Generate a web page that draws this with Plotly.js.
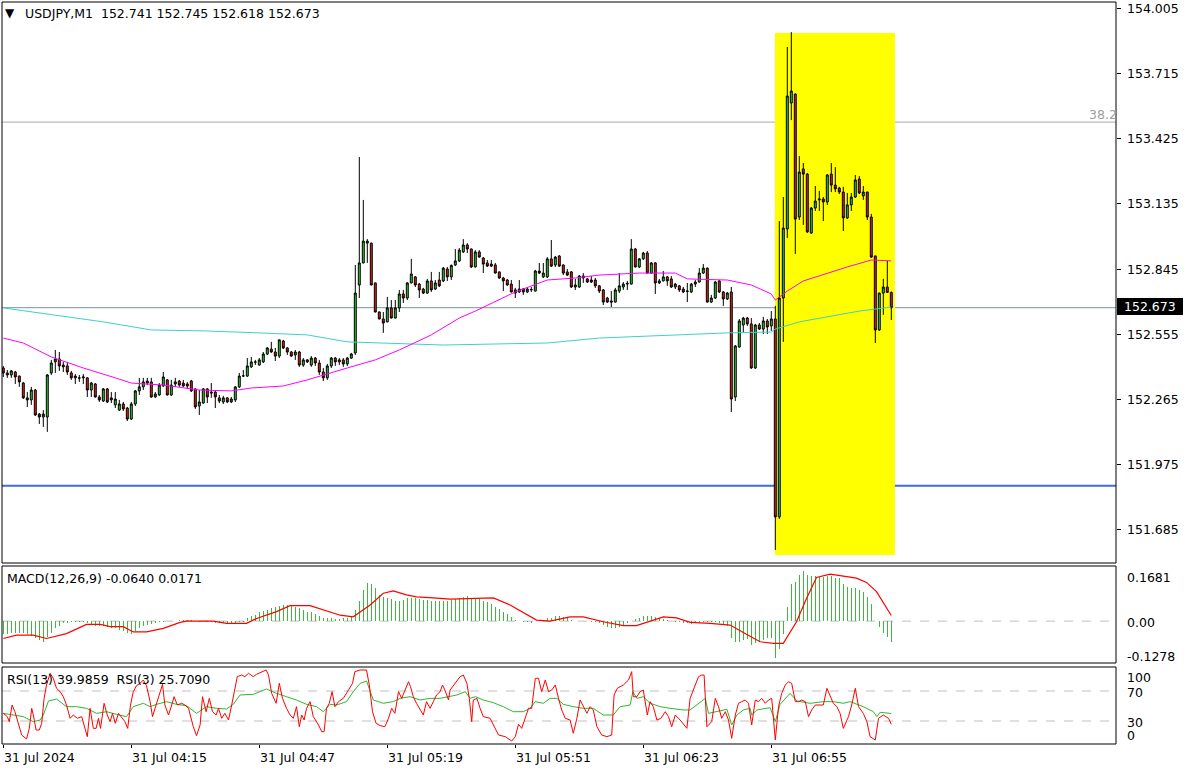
<!DOCTYPE html>
<html><head><meta charset="utf-8">
<script src="https://cdn.plot.ly/plotly-3.0.1.min.js"></script>
<style>html,body{margin:0;padding:0;background:#fff;overflow:hidden}#chart{width:1193px;height:771px}</style>
</head><body><div id="chart"></div>
<script>
// ---------- DATA ----------
const openP = [
152.405,152.383,152.374,152.387,152.369,152.338,152.272,152.263,152.307,152.200,
152.187,152.187,152.383,152.432,152.445,152.418,152.414,152.383,152.369,152.361,
152.361,152.361,152.307,152.334,152.276,152.258,152.312,152.272,152.241,152.218,
152.245,152.227,152.178,152.245,152.303,152.321,152.338,152.343,152.276,152.285,
152.325,152.352,152.285,152.334,152.347,152.338,152.334,152.347,152.312,152.236,
152.249,152.312,152.298,152.298,152.272,152.254,152.272,152.254,152.263,152.321,
152.369,152.369,152.410,152.432,152.418,152.432,152.467,152.489,152.476,152.458,
152.525,152.494,152.476,152.463,152.476,152.418,152.441,152.418,152.449,152.427,
152.387,152.361,152.414,152.449,152.432,152.441,152.423,152.449,152.472,152.774,
152.872,152.960,152.960,152.783,152.654,152.623,152.610,152.672,152.627,152.672,
152.734,152.716,152.783,152.810,152.778,152.756,152.738,152.792,152.756,152.796,
152.792,152.845,152.810,152.863,152.881,152.921,152.952,152.934,152.854,152.921,
152.894,152.872,152.867,152.863,152.832,152.805,152.796,152.778,152.752,152.743,
152.756,152.743,152.752,152.747,152.836,152.810,152.810,152.890,152.863,152.903,
152.863,152.832,152.832,152.765,152.765,152.814,152.801,152.796,152.796,152.770,
152.752,152.716,152.703,152.698,152.747,152.765,152.778,152.778,152.934,152.854,
152.890,152.916,152.827,152.872,152.783,152.792,152.810,152.801,152.765,152.770,
152.756,152.745,152.743,152.778,152.787,152.827,152.849,152.698,152.716,152.792,
152.743,152.712,152.743,152.276,152.498,152.596,152.627,152.601,152.405,152.596,
152.578,152.614,152.592,152.623,151.743,152.716,153.023,153.583,153.623,153.076,
153.290,153.267,153.005,153.116,153.152,153.156,153.143,153.267,153.218,153.205,
153.187,153.072,153.130,153.165,153.245,153.170,153.187,153.076,152.903,152.574,
152.738,152.765,152.741];
const highP = [
152.414,152.396,152.396,152.392,152.371,152.343,152.298,152.321,152.312,152.205,
152.218,152.378,152.441,152.485,152.476,152.432,152.432,152.392,152.378,152.374,
152.378,152.363,152.343,152.338,152.285,152.316,152.316,152.298,152.298,152.263,
152.254,152.232,152.254,152.307,152.361,152.361,152.361,152.361,152.298,152.338,
152.387,152.356,152.352,152.361,152.352,152.352,152.343,152.352,152.314,152.307,
152.316,152.316,152.338,152.307,152.285,152.281,152.276,152.276,152.323,152.383,
152.396,152.449,152.454,152.441,152.449,152.476,152.498,152.521,152.494,152.531,
152.530,152.498,152.481,152.485,152.481,152.449,152.445,152.458,152.454,152.441,
152.405,152.423,152.454,152.454,152.449,152.449,152.454,152.472,152.863,153.343,
153.152,152.978,152.962,152.785,152.656,152.654,152.721,152.707,152.707,152.752,
152.752,152.787,152.890,152.814,152.783,152.761,152.801,152.832,152.796,152.832,
152.854,152.854,152.865,152.934,152.938,152.978,152.960,152.936,152.929,152.929,
152.898,152.885,152.885,152.872,152.834,152.810,152.801,152.796,152.761,152.796,
152.761,152.765,152.765,152.841,152.872,152.872,152.898,152.974,152.903,152.907,
152.865,152.845,152.836,152.801,152.818,152.827,152.805,152.814,152.805,152.774,
152.756,152.721,152.747,152.761,152.827,152.787,152.792,152.978,152.938,152.894,
152.921,152.925,152.876,152.876,152.801,152.836,152.814,152.814,152.783,152.774,
152.765,152.783,152.783,152.796,152.849,152.867,152.851,152.730,152.792,152.796,
152.747,152.743,152.765,152.507,152.623,152.632,152.632,152.627,152.601,152.605,
152.632,152.623,152.658,152.681,153.058,153.165,153.832,153.898,153.625,153.347,
153.316,153.272,153.121,153.214,153.192,153.165,153.267,153.316,153.298,153.210,
153.210,153.183,153.183,153.263,153.258,153.214,153.189,153.090,152.905,152.740,
152.801,152.881,152.745];
const lowP = [
152.365,152.361,152.361,152.334,152.321,152.267,152.232,152.241,152.192,152.156,
152.143,152.121,152.374,152.383,152.392,152.387,152.374,152.352,152.334,152.343,
152.334,152.276,152.276,152.274,152.254,152.254,152.249,152.249,152.227,152.214,
152.214,152.169,152.174,152.236,152.285,152.307,152.329,152.272,152.272,152.281,
152.321,152.283,152.281,152.321,152.321,152.321,152.312,152.298,152.223,152.196,
152.247,152.249,152.272,152.227,152.249,152.245,152.249,152.249,152.254,152.316,
152.365,152.365,152.405,152.418,152.416,152.427,152.463,152.472,152.436,152.449,
152.489,152.463,152.454,152.441,152.410,152.410,152.427,152.410,152.414,152.374,
152.347,152.352,152.405,152.414,152.418,152.410,152.414,152.445,152.463,152.716,
152.870,152.872,152.772,152.652,152.621,152.561,152.608,152.625,152.625,152.654,
152.694,152.707,152.781,152.765,152.716,152.734,152.734,152.743,152.752,152.765,
152.787,152.792,152.796,152.858,152.876,152.916,152.916,152.849,152.852,152.896,
152.827,152.854,152.854,152.825,152.801,152.747,152.770,152.741,152.716,152.738,
152.730,152.738,152.743,152.745,152.823,152.805,152.805,152.854,152.854,152.854,
152.818,152.814,152.761,152.752,152.761,152.783,152.783,152.783,152.761,152.738,
152.685,152.694,152.676,152.696,152.738,152.752,152.752,152.776,152.852,152.849,
152.885,152.825,152.823,152.734,152.778,152.790,152.770,152.761,152.756,152.743,
152.738,152.698,152.738,152.765,152.785,152.823,152.696,152.694,152.712,152.738,
152.681,152.707,152.209,152.258,152.496,152.565,152.592,152.401,152.401,152.574,
152.556,152.556,152.570,151.596,151.734,152.521,152.983,153.507,152.912,153.063,
153.041,153.005,153.001,153.103,153.103,153.058,153.130,153.187,153.187,153.178,
153.014,153.067,153.103,153.161,153.178,153.152,153.063,152.894,152.516,152.570,
152.641,152.739,152.618];
const closeP = [
152.383,152.374,152.392,152.365,152.343,152.272,152.263,152.307,152.196,152.187,
152.200,152.374,152.427,152.445,152.414,152.410,152.387,152.361,152.361,152.360,
152.365,152.307,152.338,152.276,152.263,152.312,152.254,152.263,152.267,152.245,
152.223,152.178,152.245,152.303,152.321,152.343,152.347,152.276,152.289,152.329,
152.365,152.285,152.329,152.343,152.329,152.325,152.325,152.303,152.232,152.254,
152.312,152.276,152.294,152.276,152.258,152.272,152.254,152.267,152.321,152.369,
152.370,152.414,152.432,152.431,152.441,152.467,152.494,152.476,152.458,152.530,
152.494,152.476,152.458,152.476,152.418,152.441,152.432,152.449,152.427,152.387,
152.361,152.414,152.449,152.432,152.441,152.423,152.449,152.467,152.738,152.872,
152.969,152.969,152.774,152.654,152.623,152.605,152.672,152.627,152.672,152.734,
152.716,152.783,152.823,152.774,152.752,152.738,152.792,152.752,152.783,152.770,
152.849,152.810,152.861,152.881,152.929,152.952,152.934,152.854,152.921,152.898,
152.867,152.858,152.858,152.827,152.805,152.792,152.774,152.743,152.738,152.756,
152.743,152.756,152.754,152.836,152.827,152.827,152.890,152.858,152.898,152.858,
152.827,152.818,152.765,152.774,152.814,152.805,152.787,152.787,152.770,152.747,
152.698,152.698,152.698,152.752,152.770,152.778,152.781,152.934,152.854,152.890,
152.916,152.827,152.872,152.783,152.792,152.810,152.792,152.765,152.778,152.752,
152.743,152.747,152.778,152.787,152.827,152.849,152.698,152.716,152.787,152.743,
152.712,152.738,152.267,152.503,152.614,152.627,152.601,152.405,152.596,152.578,
152.614,152.587,152.623,151.743,152.716,153.027,153.614,153.636,153.067,153.276,
153.267,153.010,153.116,153.147,153.156,153.143,153.263,153.218,153.201,153.187,
153.072,153.130,153.165,153.241,153.183,153.187,153.076,152.898,152.574,152.738,
152.765,152.741,152.673];

// moving averages [bar index, price]
const maFastPts = [[0,152.538],[5,152.516],[12,152.454],[20,152.405],[28,152.361],[32,152.338],[40,152.329],[49,152.307],[57,152.303],[62,152.316],[70,152.325],[76,152.352],[86,152.405],[93,152.441],[99,152.485],[107,152.552],[114,152.627],[118,152.658],[128,152.743],[136,152.796],[143,152.805],[149,152.818],[159,152.827],[168,152.827],[171,152.801],[181,152.796],[187,152.774],[192,152.734],[193,152.707],[196,152.747],[200,152.792],[206,152.827],[211,152.854],[217,152.885],[222,152.881]];
const maSlowPts = [[0,152.672],[25,152.610],[37,152.574],[50,152.570],[64,152.561],[76,152.552],[86,152.521],[96,152.516],[110,152.507],[124,152.512],[136,152.516],[149,152.538],[162,152.547],[173,152.556],[181,152.561],[192,152.565],[193,152.578],[199,152.610],[206,152.632],[214,152.658],[222,152.676]];

// MACD histogram (one per bar)
const macdHist = [
-0.038,-0.038,-0.035,-0.035,-0.035,-0.035,-0.038,-0.045,-0.051,-0.058,
-0.065,-0.048,-0.035,-0.022,-0.014,-0.007,-0.007,-0.004,-0.002,-0.002,
-0.002,-0.007,-0.010,-0.014,-0.014,-0.014,-0.017,-0.020,-0.022,-0.028,
-0.031,-0.035,-0.038,-0.031,-0.022,-0.014,-0.012,-0.010,-0.007,-0.004,
-0.002,0.000,0.000,0.001,0.002,0.003,0.003,0.002,0.001,-0.002,
0.000,-0.002,-0.004,-0.005,-0.006,-0.007,-0.006,-0.006,-0.005,-0.004,
-0.002,0.008,0.016,0.020,0.027,0.031,0.034,0.039,0.044,0.047,
0.049,0.049,0.047,0.044,0.039,0.034,0.029,0.027,0.023,0.016,
0.010,0.008,0.008,0.006,0.006,0.008,0.010,0.013,0.034,0.061,
0.095,0.115,0.112,0.100,0.080,0.074,0.069,0.067,0.061,0.061,
0.064,0.069,0.071,0.069,0.067,0.064,0.064,0.061,0.061,0.061,
0.061,0.061,0.064,0.067,0.071,0.074,0.077,0.069,0.069,0.067,
0.061,0.057,0.051,0.044,0.037,0.029,0.021,0.013,0.003,0.000,
-0.002,-0.004,-0.007,0.000,0.000,0.003,0.008,0.010,0.016,0.016,
0.013,0.008,0.003,0.000,0.000,0.000,0.000,-0.002,-0.004,-0.007,
-0.012,-0.017,-0.022,-0.020,-0.017,-0.012,-0.007,0.000,0.006,0.010,
0.016,0.016,0.016,0.013,0.010,0.006,0.003,0.000,-0.002,-0.004,
-0.007,-0.007,-0.010,-0.007,-0.007,-0.004,-0.004,-0.004,-0.004,-0.007,
-0.010,-0.014,-0.053,-0.065,-0.063,-0.058,-0.055,-0.073,-0.068,-0.063,
-0.058,-0.051,-0.051,-0.114,-0.086,-0.038,0.044,0.112,0.120,0.141,
0.153,0.141,0.139,0.139,0.136,0.136,0.139,0.139,0.133,0.133,
0.112,0.105,0.100,0.100,0.095,0.090,0.074,0.051,0.000,-0.017,
-0.035,-0.048,-0.064];
// MACD signal [bar index, value]
const macdSignalPts = [[0,-0.053],[3.3,-0.043],[7.5,-0.043],[10.8,-0.053],[15.8,-0.038],[20.8,-0.010],[24.2,-0.010],[26.7,-0.017],[30,-0.017],[32.5,-0.033],[35.8,-0.033],[40,-0.022],[44.2,-0.004],[45.8,0.000],[52.5,0.000],[55.8,-0.007],[60.8,-0.007],[63.3,0.008],[68.3,0.029],[71.7,0.047],[76.7,0.047],[80,0.034],[84.2,0.018],[87.5,0.013],[91.7,0.049],[95,0.085],[97.5,0.092],[100.8,0.080],[103.3,0.074],[107.5,0.071],[111.7,0.067],[122.5,0.071],[126.7,0.049],[133.3,0.003],[136.7,0.000],[141.7,0.013],[145,0.013],[150,-0.002],[155,-0.014],[158.3,-0.014],[161.7,0.000],[165,0.013],[168.3,0.010],[171.7,-0.004],[176.7,-0.007],[181.7,-0.012],[185,-0.035],[189.2,-0.063],[192.5,-0.068],[195,-0.068],[198.3,-0.002],[200.8,0.069],[203.3,0.133],[206.7,0.143],[209.2,0.139],[213.3,0.131],[215.8,0.118],[218.3,0.090],[222,0.0171]];

// RSI(3) and RSI(13) [bar index, value]
const rsi3Pts = [[0,40.2],[1,35.8],[1.5,29.1],[2.2,51.3],[2.9,42.4],[3.8,26.9],[4.6,11.3],[5.8,6.0],[6.5,20.2],[7.1,46.9],[7.5,38.0],[8.2,18.0],[9,18.0],[9.6,26.9],[10.2,60.2],[10.8,78.0],[11.7,93.6],[12.5,86.9],[13.3,73.6],[14.2,69.1],[15,62.4],[15.8,51.3],[16.7,33.6],[17.5,38.0],[18.5,33.6],[19.6,35.8],[20.4,22.4],[21,9.1],[21.7,46.9],[22.5,20.2],[23.2,20.2],[23.8,33.6],[24.3,20.2],[25.2,53.6],[26,38.0],[26.7,29.1],[27.3,40.2],[28,26.9],[28.8,40.2],[29.7,33.6],[30.4,29.1],[31.1,20.2],[31.8,51.3],[32.5,69.1],[33.3,77.1],[34.2,80.2],[35,84.7],[35.8,77.1],[36.7,55.8],[37.3,35.8],[38.2,51.3],[39,66.9],[39.8,78.9],[40.4,51.3],[41.3,38.0],[42.1,51.3],[42.7,62.4],[43.5,51.3],[44.6,53.6],[45.4,51.3],[46.3,46.9],[47.5,22.4],[48.3,10.4],[49.2,24.7],[49.8,62.4],[50.7,42.4],[51.5,60.2],[52.3,42.4],[53.2,38.0],[53.8,46.9],[54.6,33.6],[55.4,40.2],[56.3,31.3],[57.1,51.3],[57.9,71.3],[58.5,89.1],[59.6,91.3],[60.4,89.1],[61.3,93.6],[62.5,89.1],[63.3,92.2],[64.6,94.9],[65.7,98.0],[66.3,91.3],[67.1,66.9],[68.2,53.6],[69,80.2],[69.8,60.2],[70.8,46.9],[71.7,38.0],[72.5,33.6],[73.3,49.1],[74,22.4],[74.6,38.0],[75.2,31.3],[75.8,46.9],[76.7,55.8],[77.5,35.8],[78.8,24.7],[79.6,15.8],[80.2,15.8],[80.8,46.9],[81.5,53.6],[82.2,69.1],[82.9,49.1],[83.8,55.8],[85,60.2],[86.3,71.3],[87.3,80.2],[87.9,95.8],[89.2,98.0],[90.8,98.0],[91.5,78.0],[92.3,42.4],[93.2,26.9],[94.2,23.8],[95.4,22.4],[96.3,33.6],[97.1,46.9],[97.9,40.2],[98.8,69.1],[99.6,60.2],[100.4,71.3],[101.3,82.4],[101.8,75.8],[102.5,62.4],[103.3,53.6],[104.2,44.7],[105,38.0],[105.8,55.8],[106.7,46.9],[107.5,55.8],[108.3,64.7],[109.2,69.1],[109.8,78.0],[110.4,71.3],[111.3,58.0],[111.7,71.3],[113,80.2],[114.2,89.1],[115,91.3],[115.9,80.2],[116.5,60.2],[117.1,29.1],[117.5,58.0],[118.4,60.2],[119.2,46.9],[120,35.8],[121.7,33.6],[122.5,24.7],[123.8,11.3],[125.5,9.1],[127.1,3.3],[128,9.1],[128.8,25.6],[129.6,20.2],[130.5,33.6],[131.3,46.9],[132.1,46.9],[133,86.9],[133.8,86.9],[134.6,69.1],[135.5,84.7],[136.3,69.1],[137.1,71.3],[138,78.0],[138.8,60.2],[139.6,44.7],[140.5,33.6],[141.7,31.3],[142.5,13.6],[143.4,33.6],[144.2,58.0],[145,49.1],[145.9,40.2],[146.7,49.1],[147.5,44.7],[148.4,22.4],[149.6,11.3],[150.9,9.1],[152.1,11.3],[152.7,64.7],[153.5,73.6],[155,78.0],[156.3,84.7],[157.1,95.8],[157.5,62.4],[158.4,62.4],[159.2,69.1],[160,71.3],[161,38.0],[161.7,55.8],[162.5,49.1],[163.4,31.3],[164.4,33.6],[165.5,42.4],[166.3,35.8],[167.1,22.4],[168,38.0],[169.2,31.3],[170.9,20.2],[171.7,60.2],[173,78.0],[173.8,89.1],[174.6,91.3],[175.2,91.3],[175.9,22.4],[177.1,29.1],[178,60.2],[178.8,49.1],[179.6,33.6],[180.5,42.4],[181.3,31.3],[182.1,6.9],[183,38.0],[183.8,53.6],[184.6,55.8],[185.5,58.0],[186.3,53.6],[187.1,24.7],[188,58.0],[188.8,55.8],[189.6,60.2],[190.5,53.6],[191.3,58.0],[192.1,60.2],[193,4.7],[193.8,49.1],[194.6,66.9],[195.5,78.0],[196.3,82.4],[197.1,80.2],[198,55.8],[198.8,55.8],[199.6,58.0],[200.5,55.8],[201.3,35.8],[202.1,44.7],[203,51.3],[204.2,51.3],[205,51.3],[205.9,73.6],[206.7,62.4],[207.5,53.6],[208.4,49.1],[209.2,40.2],[210,20.2],[211.3,35.8],[212.1,51.3],[213,73.6],[213.8,49.1],[215,40.2],[215.9,29.1],[216.7,9.1],[218,4.7],[218.8,33.6],[220,38.0],[221.3,33.6],[222,25.7]];
const rsi13Pts = [[0,40.2],[2.5,38.0],[5,35.8],[7.5,29.1],[9.2,31.3],[10,38.0],[11.3,56.7],[13.3,59.3],[15.8,49.1],[18.3,49.1],[20.8,46.9],[23.3,40.2],[25.8,42.4],[28.3,38.9],[30.8,35.8],[32.5,49.1],[35,53.6],[36.7,49.1],[38.3,52.2],[40.8,55.8],[43.3,52.2],[45.8,50.4],[48.3,40.2],[50.8,49.1],[53.3,46.9],[55.8,46.0],[57.5,52.2],[59.2,64.7],[62.5,65.6],[65.8,72.7],[68.3,66.9],[70.8,62.4],[73.3,58.0],[75.8,52.2],[78.3,49.1],[80,42.4],[81.7,52.2],[83.3,51.3],[85.8,55.8],[87.5,69.1],[89.2,80.2],[90.8,83.3],[92.5,58.0],[95,53.6],[97.5,55.8],[99.2,60.2],[101.7,62.4],[104.2,58.0],[106.7,60.2],[109.2,60.2],[111.7,62.4],[113.4,64.7],[115.5,69.1],[116.7,60.2],[118,62.4],[120,58.0],[122.5,54.4],[125,49.1],[127.5,42.4],[130,42.4],[131.7,46.9],[133,55.8],[135,53.6],[136.7,60.2],[138.4,60.2],[140,52.2],[142.5,49.1],[145,46.9],[147.5,46.9],[150,38.0],[152.5,38.0],[154.2,49.1],[156.7,51.3],[157.4,69.1],[158.4,60.2],[160,62.4],[161.7,53.6],[164.2,49.1],[166.7,46.9],[170,44.7],[171.7,44.7],[173.4,51.3],[175.5,60.2],[176.3,40.2],[178.4,42.4],[180.9,45.6],[182.1,24.7],[183.4,38.0],[185,44.7],[186.7,46.9],[187.1,38.0],[188.4,44.7],[191.7,47.8],[193,29.1],[194.2,52.2],[195.9,62.4],[196.7,66.9],[198.4,56.7],[201.7,53.6],[205,55.8],[207.5,55.8],[210,53.6],[211.7,55.8],[215,49.1],[217.5,42.4],[218.4,35.8],[219.2,41.6],[222,40.0]];

const priceTicks = [154.005,153.715,153.425,153.135,152.845,152.555,152.265,151.975,151.685];
const timeTickIdx = [0,32,64,96,128,160,192];
const timeTickText = ['31 Jul 2024','31 Jul 04:15','31 Jul 04:47','31 Jul 05:19','31 Jul 05:51','31 Jul 06:23','31 Jul 06:55'];
const fibLevel = 153.498, supportLevel = 151.881, lastPrice = 152.673;
const zone = {start:192.9, end:222.9, low:151.574, high:153.894};
const rsiLevels = [70, 30];

// ---------- LAYOUT HELPERS ----------
const W = 1193, H = 771;
const px = x => x / W;
const py = y => 1 - y / H;
const FONT = 'DejaVu Sans';
const FS = 12.5;
const idx = openP.map((_, i) => i);
const xs = pts => pts.map(p => p[0]);
const ys = pts => pts.map(p => p[1]);

const traces = [
  {type:'scatter', mode:'lines', x:xs(maSlowPts), y:ys(maSlowPts), line:{color:'#40d0c8', width:1}, hoverinfo:'skip'},
  {type:'scatter', mode:'lines', x:xs(maFastPts), y:ys(maFastPts), line:{color:'#ff00ff', width:1}, hoverinfo:'skip'},
  {type:'candlestick', x:idx, open:openP, high:highP, low:lowP, close:closeP,
   increasing:{fillcolor:'#32cd32', line:{color:'#000', width:1}},
   decreasing:{fillcolor:'#dc2814', line:{color:'#000', width:1}},
   whiskerwidth:0, hoverinfo:'skip'},
  {type:'bar', x:idx, y:macdHist, yaxis:'y2', width:0.25, marker:{color:'#3cb83c', line:{width:0}}, hoverinfo:'skip'},
  {type:'scatter', mode:'lines', x:xs(macdSignalPts), y:ys(macdSignalPts), yaxis:'y2', line:{color:'#ff0000', width:1.2}, hoverinfo:'skip'},
  {type:'scatter', mode:'lines', x:xs(rsi13Pts), y:ys(rsi13Pts), yaxis:'y3', line:{color:'#2db82d', width:1}, hoverinfo:'skip'},
  {type:'scatter', mode:'lines', x:xs(rsi3Pts), y:ys(rsi3Pts), yaxis:'y3', line:{color:'#ff0000', width:1}, hoverinfo:'skip'}
];

const X0 = px(2), X1 = px(1116);
const shapes = [
  {type:'rect', xref:'x', yref:'y', x0:zone.start, x1:zone.end, y0:zone.low, y1:zone.high, fillcolor:'#ffff00', line:{width:0}, layer:'below'},
  {type:'line', xref:'paper', yref:'y', x0:X0, x1:X1, y0:fibLevel, y1:fibLevel, line:{color:'#a8a8a8', width:1}, layer:'below'},
  {type:'line', xref:'paper', yref:'y', x0:X0, x1:X1, y0:lastPrice, y1:lastPrice, line:{color:'#8090a0', width:1}, layer:'below'},
  {type:'line', xref:'paper', yref:'y', x0:X0, x1:X1, y0:supportLevel, y1:supportLevel, line:{color:'#4169e1', width:2}, layer:'below'},
  {type:'line', xref:'paper', yref:'y2', x0:X0, x1:X1, y0:0, y1:0, line:{color:'#c0c0c0', width:1, dash:'dash'}, layer:'below'},
  ...rsiLevels.map(v => ({type:'line', xref:'paper', yref:'y3', x0:X0, x1:X1, y0:v, y1:v, line:{color:'#c0c0c0', width:1, dash:'dash'}, layer:'below'})),
  {type:'rect', xref:'paper', yref:'paper', x0:px(2), x1:px(1116), y0:py(563), y1:py(2), line:{color:'#000', width:1}},
  {type:'rect', xref:'paper', yref:'paper', x0:px(2), x1:px(1116), y0:py(663), y1:py(566), line:{color:'#000', width:1}},
  {type:'rect', xref:'paper', yref:'paper', x0:px(2), x1:px(1116), y0:py(744), y1:py(667), line:{color:'#000', width:1}},
  {type:'rect', xref:'paper', yref:'paper', x0:px(1117), x1:px(1183), y0:py(315), y1:py(298), fillcolor:'#000', line:{width:0}}
];

const ann = (x, y, text, opts = {}) => Object.assign({
  x, y, xref:'paper', yref:'paper', text, showarrow:false, xanchor:'left', yanchor:'middle',
  font:{family:FONT, size:FS, color:'#000'}, borderpad:0
}, opts);

const annotations = [
  ann(px(4), py(12.5), '▼', {font:{family:FONT, size:12, color:'#000'}}),
  ann(px(24), py(13), 'USDJPY,M1  152.741 152.745 152.618 152.673'),
  ann(px(6), py(578), 'MACD(12,26,9) -0.0640 0.0171'),
  ann(px(6), py(679), 'RSI(13) 39.9859  RSI(3) 25.7090'),
  ann(px(1118), py(114), '38.2', {xanchor:'right', font:{family:FONT, size:FS, color:'#a0a0a0'}}),
  ann(px(1150), py(306.5), '152.673', {xanchor:'center', font:{family:FONT, size:FS, color:'#fff'}}),
  ...priceTicks.filter(v => Math.abs(v - lastPrice) > 0.05).map(v => ann(px(1126), v, v.toFixed(3), {yref:'y'})),
  ann(px(1126), py(577), '0.1681'),
  ann(px(1126), py(622), '0.00'),
  ann(px(1126), py(656), '-0.1278'),
  ann(px(1126), py(677), '100'),
  ann(px(1126), py(692), '70'),
  ann(px(1126), py(722), '30'),
  ann(px(1126), py(735), '0'),
  ...timeTickIdx.map((t, i) => ann(t, py(757), timeTickText[i], {xref:'x'}))
];

const layout = {
  width:W, height:H, margin:{l:0, r:0, t:0, b:0},
  paper_bgcolor:'#fff', plot_bgcolor:'#fff', showlegend:false,
  font:{family:FONT, size:FS, color:'#000'},
  xaxis:{domain:[X0, X1], range:[-0.325, 278.175], anchor:'y3', showgrid:false, zeroline:false, showline:false,
    ticks:'outside', ticklen:3, tickcolor:'#000', tickvals:timeTickIdx, ticktext:timeTickIdx.map(() => ''),
    rangeslider:{visible:false}, fixedrange:true},
  yaxis:{domain:[py(563), py(2)], range:[151.538, 154.032], anchor:'x', side:'right', showgrid:false, zeroline:false,
    showline:false, ticks:'outside', ticklen:4, tickcolor:'#000', tickvals:priceTicks,
    showticklabels:false, fixedrange:true},
  yaxis2:{domain:[py(663), py(566)], range:[-0.1278, 0.1681], anchor:'x', side:'right', showgrid:false, zeroline:false,
    showticklabels:false, ticks:'', fixedrange:true},
  yaxis3:{domain:[py(744), py(667)], range:[-0.67, 102], anchor:'x', side:'right', showgrid:false, zeroline:false,
    showticklabels:false, ticks:'', fixedrange:true},
  bargap:0, shapes, annotations
};

Plotly.newPlot('chart', traces, layout, {staticPlot:true, displayModeBar:false});
</script>
</body></html>
